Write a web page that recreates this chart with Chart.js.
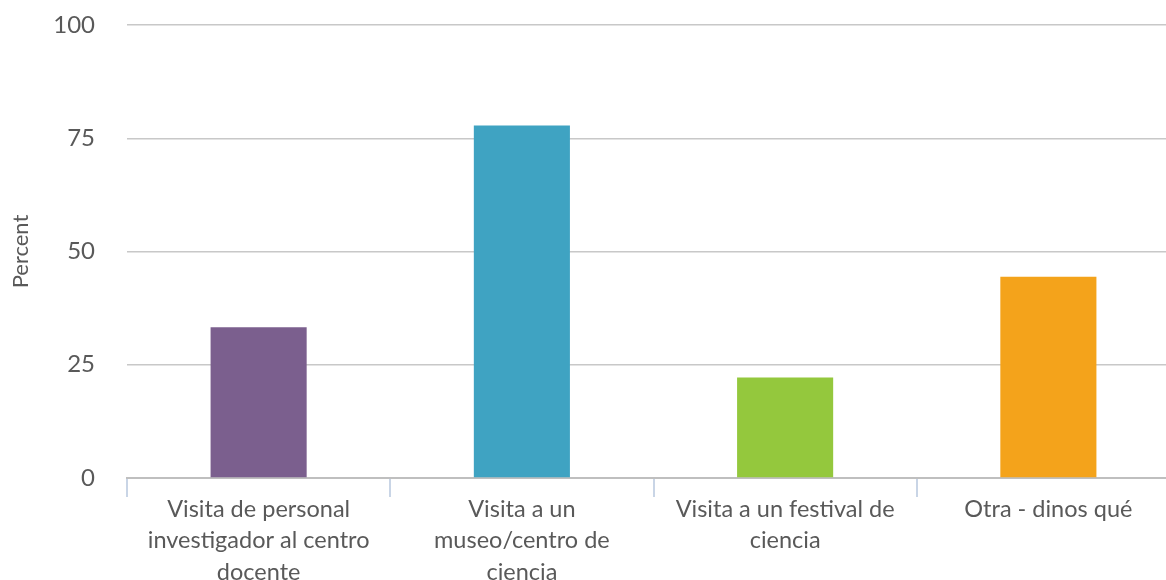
<!DOCTYPE html>
<html>
<head>
<meta charset="utf-8">
<script src="https://cdn.jsdelivr.net/npm/chart.js@4"></script>
<style>
  html, body { margin: 0; padding: 0; background: #fff; overflow: hidden; }
  #wrap { width: 1180px; height: 580px; }
</style>
</head>
<body>
<div id="wrap"><canvas id="chart" width="1180" height="580"></canvas></div>
<script>
const categories = [
  ['Visita de personal', 'investigador al centro', 'docente'],
  ['Visita a un', 'museo/centro de', 'ciencia'],
  ['Visita a un festival de', 'ciencia'],
  ['Otra - dinos qué'],
];
const percents = [33.3, 77.8, 22.2, 44.4];
const barColors = ['#7B5F8E', '#3FA3C2', '#94C83D', '#F4A31B'];
const yTicks = [0, 25, 50, 75, 100];

const textColor = '#595959';
const font = { family: 'Lato', size: 23.5, lineHeight: 1.33 };

new Chart(document.getElementById('chart').getContext('2d'), {
  type: 'bar',
  data: {
    labels: categories,
    datasets: [{
      data: percents,
      backgroundColor: barColors,
      barPercentage: 0.365,
      categoryPercentage: 1,
    }],
  },
  options: {
    responsive: false,
    animation: false,
    layout: { padding: { top: 25, right: 0, bottom: 0, left: 0 } },
    plugins: { legend: { display: false }, tooltip: { enabled: false } },
    scales: {
      x: {
        offset: true,
        grid: { drawOnChartArea: false, drawTicks: true, tickLength: 19, color: '#C9D5E6', lineWidth: 2 },
        border: { display: true, color: '#BFBFBF', width: 2 },
        ticks: { color: textColor, font, padding: -3, maxRotation: 0, autoSkip: false },
        afterFit: s => { s.height = 102; },
      },
      y: {
        min: 0,
        max: 100,
        afterBuildTicks: s => { s.ticks = yTicks.map(v => ({ value: v })); },
        grid: { color: '#C8C8C8', lineWidth: 1.5, drawTicks: false },
        border: { display: false },
        ticks: { color: textColor, font: { family: 'Lato', size: 24 }, padding: 32 },
        title: { display: true, text: 'Percent', color: textColor, font: { family: 'Lato', size: 22 }, padding: { top: 8, bottom: 0 } },
        afterFit: s => { s.width = 127; s.paddingTop = 0; s.paddingBottom = 0; },
      },
    },
  },
});
</script>
</body>
</html>
